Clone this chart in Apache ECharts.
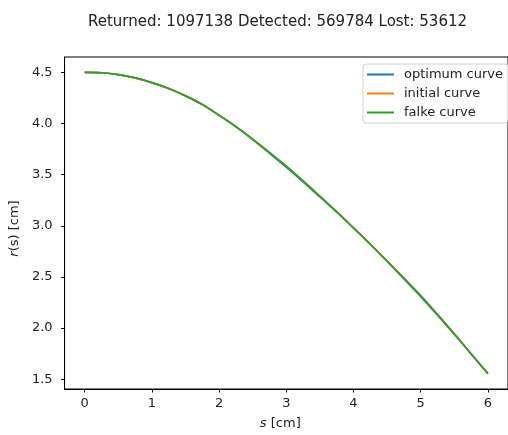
<!DOCTYPE html>
<html>
<head>
<meta charset="utf-8">
<script src="https://cdn.jsdelivr.net/npm/echarts@6/dist/echarts.min.js"></script>
<style>
  html, body { margin: 0; padding: 0; background: #fff; }
  #chart { width: 508px; height: 435px; }
</style>
</head>
<body>
<div id="chart"></div>
<script>
// Arc length positions s [cm]
const sValues = [0, 0.25, 0.5, 0.75, 1.0, 1.25, 1.5, 1.75, 2.0, 2.25, 2.5, 2.75, 3.0,
                 3.25, 3.5, 3.75, 4.0, 4.25, 4.5, 4.75, 5.0, 5.25, 5.5, 5.75, 6.0];

// Radius profiles r(s) [cm]
const optimumCurve = [4.500, 4.496, 4.478, 4.446, 4.400, 4.342, 4.270, 4.185, 4.080, 3.968,
                      3.843, 3.709, 3.572, 3.430, 3.282, 3.134, 2.980, 2.822, 2.655, 2.482,
                      2.308, 2.126, 1.940, 1.748, 1.555];
const initialCurve = [4.500, 4.496, 4.478, 4.446, 4.400, 4.342, 4.270, 4.185, 4.080, 3.970,
                      3.848, 3.718, 3.582, 3.438, 3.289, 3.138, 2.980, 2.820, 2.655, 2.488,
                      2.318, 2.134, 1.944, 1.750, 1.555];
const falkeCurve = [4.500, 4.496, 4.478, 4.446, 4.400, 4.342, 4.270, 4.185, 4.080, 3.970,
                    3.848, 3.718, 3.582, 3.438, 3.289, 3.138, 2.980, 2.820, 2.655, 2.488,
                    2.318, 2.134, 1.944, 1.750, 1.555];

const xTicks = [0, 1, 2, 3, 4, 5, 6];
const yTicks = [1.5, 2.0, 2.5, 3.0, 3.5, 4.0, 4.5];

const titleText = 'Returned: 1097138 Detected: 569784 Lost: 53612';
const seriesNames = ['optimum curve', 'initial curve', 'falke curve'];
const seriesColors = ['#1f77b4', '#ff7f0e', '#2ca02c'];

const FONT = 'DejaVu Sans';
const INK = '#222';

function pairs(ys) {
  return sValues.map((s, i) => [s, ys[i]]);
}

const curves = [optimumCurve, initialCurve, falkeCurve];

const chart = echarts.init(document.getElementById('chart'), null, { renderer: 'canvas' });

chart.setOption({
  animation: false,
  backgroundColor: '#fff',
  title: {
    text: titleText,
    left: 88,
    top: 14.5,
    padding: 0,
    textStyle: { fontFamily: FONT, fontSize: 15, fontWeight: 'normal', color: INK }
  },
  legend: {
    orient: 'vertical',
    left: 363,
    top: 64,
    padding: [1, 5, 1, 4],
    itemGap: 0,
    itemWidth: 27,
    itemHeight: 2,
    icon: 'rect',
    backgroundColor: 'rgba(255,255,255,0.8)',
    borderColor: '#d0d0d0',
    borderWidth: 1,
    borderRadius: 3,
    data: seriesNames,
    textStyle: {
      fontFamily: FONT, fontSize: 13, color: INK, lineHeight: 19,
      padding: [0, 0, 0, 5]
    }
  },
  grid: {
    left: 62, top: 57, width: 448, bottom: 43,
    show: true, borderColor: '#000', borderWidth: 1, backgroundColor: 'transparent'
  },
  xAxis: {
    type: 'value',
    min: -0.3,
    max: 6.3,
    name: '{i|s} [cm]',
    nameLocation: 'middle',
    nameGap: 28,
    nameTextStyle: {
      fontFamily: FONT, fontSize: 13, color: INK,
      padding: [0, 12, 0, 0],
      rich: { i: { fontStyle: 'italic', fontFamily: FONT, fontSize: 13, color: INK } }
    },
    axisLine: { show: true, onZero: false, lineStyle: { color: '#000', width: 1 } },
    axisTick: { show: true, length: 3.5, customValues: xTicks, lineStyle: { color: '#000' } },
    axisLabel: {
      customValues: xTicks, margin: 8,
      fontFamily: FONT, fontSize: 13, color: INK
    },
    splitLine: { show: false }
  },
  yAxis: {
    type: 'value',
    min: 1.405,
    max: 4.65,
    name: '{i|r}(s) [cm]',
    nameLocation: 'middle',
    nameRotate: 90,
    nameGap: 40,
    nameTextStyle: {
      fontFamily: FONT, fontSize: 13, color: INK,
      padding: [0, 11, 0, 0],
      rich: { i: { fontStyle: 'italic', fontFamily: FONT, fontSize: 13, color: INK } }
    },
    axisLine: { show: true, onZero: false, lineStyle: { color: '#000', width: 1 } },
    axisTick: { show: true, length: 3.5, customValues: yTicks, lineStyle: { color: '#000' } },
    axisLabel: {
      customValues: yTicks, margin: 12,
      fontFamily: FONT, fontSize: 13, color: INK,
      formatter: v => v.toFixed(1)
    },
    splitLine: { show: false }
  },
  series: curves.map((ys, i) => ({
    name: seriesNames[i],
    type: 'line',
    data: pairs(ys),
    showSymbol: false,
    symbol: 'none',
    smooth: 0.35,
    color: seriesColors[i],
    lineStyle: { color: seriesColors[i], width: 1.7 },
    z: 2 + i
  }))
});
</script>
</body>
</html>
